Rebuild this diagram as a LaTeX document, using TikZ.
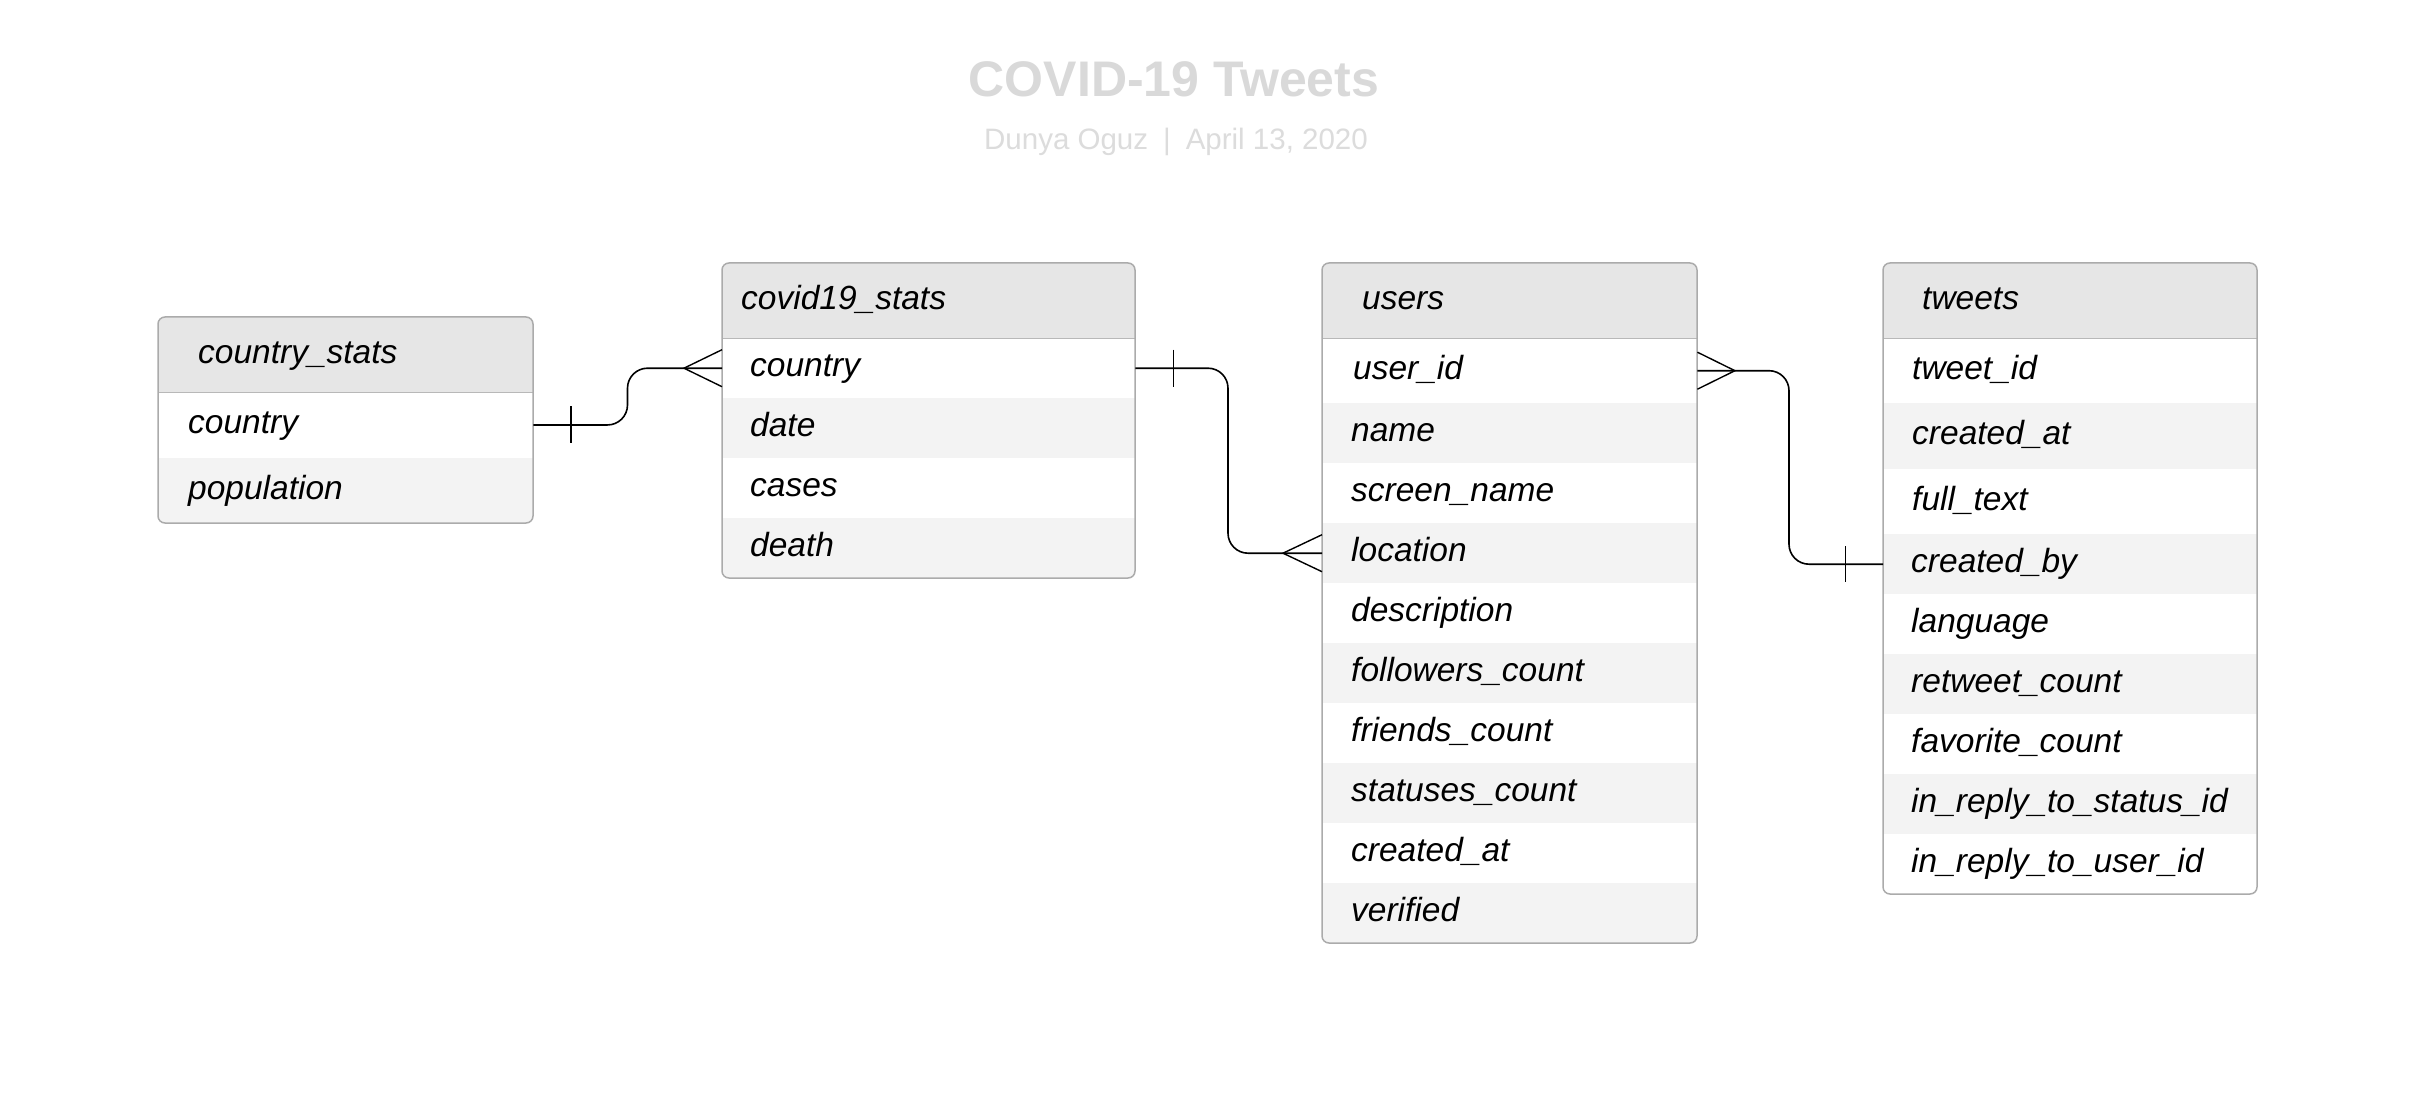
\documentclass[tikz,border=0pt]{standalone}
\usepackage{fontspec}
\setmainfont{Liberation Sans}
\definecolor{hdr}{HTML}{E6E6E6}
\definecolor{alt}{HTML}{F3F3F3}
\definecolor{bord}{HTML}{ABABAB}
\definecolor{sepc}{HTML}{B8B8B8}
\definecolor{ttl}{HTML}{D9D9D9}
\definecolor{subc}{HTML}{DCDCDC}
\tikzset{
  rowbox/.style={rectangle, anchor=north west, inner sep=0pt, draw=none},
  fieldtxt/.style={anchor=mid west, inner sep=0pt, text=black, font=\fontsize{33.5}{40}\selectfont\itshape},
  tblborder/.style={draw=bord, line width=1.5pt, rounded corners=7pt},
  sepline/.style={draw=sepc, line width=1.5pt},
  conn/.style={draw=black, line width=1.6pt},
  crow/.style={draw=black, line width=1.4pt},
}
\newcommand\ERrow[8]{%
  \node[rowbox, fill=#6, minimum width=#4, minimum height=#5] (#1) at (#2,#3) {};
  \node[fieldtxt] (#1t) at ([xshift=#8, yshift=-6pt]#1.west) {#7};}
\begin{document}
\begin{tikzpicture}[x=1pt,y=-1pt]
\useasboundingbox (0,0) rectangle (2426,1099);
\fill[white] (0,0) rectangle (2426,1099);

% title
\node[anchor=base, inner sep=0pt, text=ttl, font=\fontsize{50}{58}\selectfont\bfseries] (title) at (1174,97) {COVID-19 Tweets};
\node[anchor=base, inner sep=0pt, text=subc, font=\fontsize{29.5}{35}\selectfont] (subtitle) at (1176,150) {Dunya Oguz\hspace{15pt}|\hspace{15pt}April 13, 2020};

% ---------------- country_stats
\begin{scope}
\clip[rounded corners=7pt] (158,317) rectangle (533,523);
\ERrow{csh}{158}{317}{375}{75}{hdr}{country\_stats}{40}
\ERrow{cs1}{158}{392}{375}{65.5}{white}{country}{30}
\ERrow{cs2}{158}{457.5}{375}{65.5}{alt}{population}{30}
\end{scope}
\draw[sepline] (csh.south west) -- (csh.south east);
\draw[tblborder] (158,317) rectangle (533,523);

% ---------------- covid19_stats
\begin{scope}
\clip[rounded corners=7pt] (722,263) rectangle (1135,578);
\ERrow{cvh}{722}{263}{413}{75}{hdr}{covid19\_stats}{19}
\ERrow{cv1}{722}{338}{413}{60}{white}{country}{28}
\ERrow{cv2}{722}{398}{413}{60}{alt}{date}{28}
\ERrow{cv3}{722}{458}{413}{60}{white}{cases}{28}
\ERrow{cv4}{722}{518}{413}{60}{alt}{death}{28}
\end{scope}
\draw[sepline] (cvh.south west) -- (cvh.south east);
\draw[tblborder] (722,263) rectangle (1135,578);

% ---------------- users
\begin{scope}
\clip[rounded corners=7pt] (1322,263) rectangle (1697,943);
\ERrow{uh}{1322}{263}{375}{75}{hdr}{users}{40}
\ERrow{u1}{1322}{338}{375}{65}{white}{user\_id}{31}
\ERrow{u2}{1322}{403}{375}{60}{alt}{name}{29}
\ERrow{u3}{1322}{463}{375}{60}{white}{screen\_name}{29}
\ERrow{u4}{1322}{523}{375}{60}{alt}{location}{29}
\ERrow{u5}{1322}{583}{375}{60}{white}{description}{29}
\ERrow{u6}{1322}{643}{375}{60}{alt}{followers\_count}{29}
\ERrow{u7}{1322}{703}{375}{60}{white}{friends\_count}{29}
\ERrow{u8}{1322}{763}{375}{60}{alt}{statuses\_count}{29}
\ERrow{u9}{1322}{823}{375}{60}{white}{created\_at}{29}
\ERrow{u10}{1322}{883}{375}{60}{alt}{verified}{29}
\end{scope}
\draw[sepline] (uh.south west) -- (uh.south east);
\draw[tblborder] (1322,263) rectangle (1697,943);

% ---------------- tweets
\begin{scope}
\clip[rounded corners=7pt] (1883,263) rectangle (2257,894);
\ERrow{th}{1883}{263}{374}{75}{hdr}{tweets}{39}
\ERrow{t1}{1883}{338}{374}{65}{white}{tweet\_id}{29}
\ERrow{t2}{1883}{403}{374}{66}{alt}{created\_at}{29}
\ERrow{t3}{1883}{469}{374}{65}{white}{full\_text}{29}
\ERrow{t4}{1883}{534}{374}{60}{alt}{created\_by}{28}
\ERrow{t5}{1883}{594}{374}{60}{white}{language}{28}
\ERrow{t6}{1883}{654}{374}{60}{alt}{retweet\_count}{28}
\ERrow{t7}{1883}{714}{374}{60}{white}{favorite\_count}{28}
\ERrow{t8}{1883}{774}{374}{60}{alt}{in\_reply\_to\_status\_id}{28}
\ERrow{t9}{1883}{834}{374}{60}{white}{in\_reply\_to\_user\_id}{28}
\end{scope}
\draw[sepline] (th.south west) -- (th.south east);
\draw[tblborder] (1883,263) rectangle (2257,894);

% ---------------- connectors
\coordinate (b1) at (627.5,0);
\coordinate (b2) at (1228,0);
\coordinate (b3) at (1789,0);

% country_stats.country  -|<  covid19_stats.country
\draw[conn, rounded corners=20pt] (cs1.east) -- (cs1.east -| b1) -- (cv1.west -| b1) -- (cv1.west);
\draw[conn] ([xshift=37.5pt,yshift=18.5pt]cs1.east) -- ([xshift=37.5pt,yshift=-18.5pt]cs1.east);
\draw[crow] ([yshift=18.5pt]cv1.west) -- ([xshift=-38pt]cv1.west) -- ([yshift=-18.5pt]cv1.west);

% covid19_stats.country  -|<  users.location
\draw[conn, rounded corners=20pt] (cv1.east) -- (cv1.east -| b2) -- (u4.west -| b2) -- (u4.west);
\draw[conn] ([xshift=38pt,yshift=18.5pt]cv1.east) -- ([xshift=38pt,yshift=-18.5pt]cv1.east);
\draw[crow] ([yshift=18.5pt]u4.west) -- ([xshift=-39pt]u4.west) -- ([yshift=-18.5pt]u4.west);

% users.user_id  >|-  tweets.created_by
\draw[conn, rounded corners=20pt] (u1.east) -- (u1.east -| b3) -- (t4.west -| b3) -- (t4.west);
\draw[crow] ([yshift=18.5pt]u1.east) -- ([xshift=37.5pt]u1.east) -- ([yshift=-18.5pt]u1.east);
\draw[conn] ([xshift=-37.5pt,yshift=18pt]t4.west) -- ([xshift=-37.5pt,yshift=-18pt]t4.west);
\end{tikzpicture}
\end{document}
